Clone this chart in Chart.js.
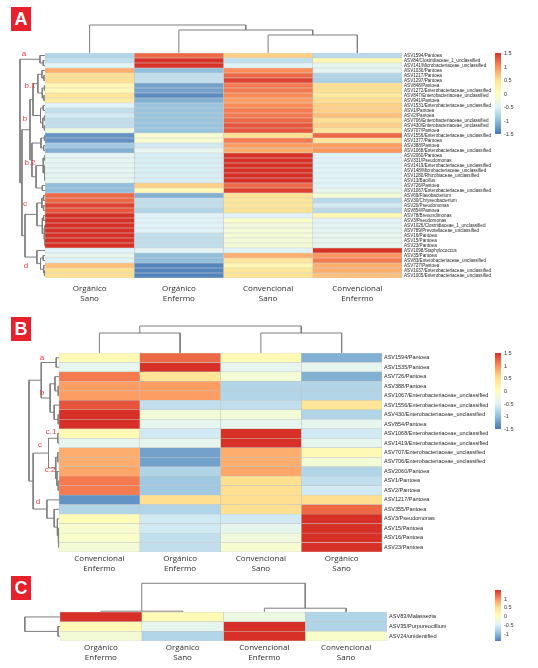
<!DOCTYPE html>
<html lang="es">
<head>
<meta charset="UTF-8">
<title>Heatmaps ASV</title>
<script src="https://cdn.jsdelivr.net/npm/chart.js"></script>
<style>
  body { margin: 0; background: #fff; }
  #page { position: relative; width: 538px; height: 668px; overflow: hidden; font-family: "Liberation Sans", Arial, sans-serif; }
  canvas { position: absolute; left: 0; }
  .tag { position: absolute; left: 11px; width: 20px; height: 24px; background: #e8202a; color: #fff;
         font: bold 18px "Liberation Sans Narrow", "Liberation Sans", sans-serif; text-align: center; line-height: 24px; }
  .cl { position: absolute; color: #e2404e; font-size: 8px; transform: translate(-50%, -50%); }
  .cbar { position: absolute; width: 6px; }
  .tk { position: absolute; font-size: 5.5px; color: #333; transform: translateY(-50%); }
</style>
</head>
<body>
<div id="page">
  <canvas id="chartA" width="538" height="310" style="top:0px"></canvas>
  <canvas id="chartB" width="538" height="266" style="top:310px"></canvas>
  <canvas id="chartC" width="538" height="92" style="top:576px"></canvas>
  <div class="tag" style="top:7px">A</div>
  <div class="tag" style="top:317px">B</div>
  <div class="tag" style="top:576px">C</div>
</div>

<script>
// ---- panel A (bacterias, 45 ASV) ----
var rowsA = ['ASV1594/Pantoea', 'ASV84/Clostridiaceae_1_unclassified', 'ASV141/Microbacteriaceae_unclassified',
  'ASV1030/Pantoea', 'ASV1217/Pantoea', 'ASV1297/Pantoea', 'ASV848/Pantoea', 'ASV1272/Enterobacteriaceae_unclassified',
  'ASV847/Enterobacteriaceae_unclassified', 'ASV941/Pantoea', 'ASV1531/Enterobacteriaceae_unclassified', 'ASV1/Pantoea',
  'ASV2/Pantoea', 'ASV706/Enterobacteriaceae_unclassified', 'ASV430/Enterobacteriaceae_unclassified', 'ASV707/Pantoea',
  'ASV1556/Enterobacteriaceae_unclassified', 'ASV1377/Pantoea', 'ASV388/Pantoea', 'ASV1068/Enterobacteriaceae_unclassified',
  'ASV2060/Pantoea', 'ASV331/Pseudomonas', 'ASV1419/Enterobacteriaceae_unclassified', 'ASV148/Microbacteriaceae_unclassified',
  'ASV1280/Rhizobiaceae_unclassified', 'ASV13/Bacillus', 'ASV726/Pantoea', 'ASV1067/Enterobacteriaceae_unclassified',
  'ASV69/Flavobacterium', 'ASV30/Chryseobacterium', 'ASV20/Pseudomonas', 'ASV854/Pantoea', 'ASV78/Brevundimonas',
  'ASV3/Pseudomonas', 'ASV1026/Clostridiaceae_1_unclassified', 'ASV789/Prevotellaceae_unclassified', 'ASV16/Pantoea',
  'ASV15/Pantoea', 'ASV23/Pantoea', 'ASV1098/Staphylococcus', 'ASV35/Pantoea', 'ASV83/Enterobacteriaceae_unclassified',
  'ASV727/Pantoea', 'ASV1037/Enterobacteriaceae_unclassified', 'ASV1005/Enterobacteriaceae_unclassified'];
var colsA = [['Orgánico', 'Sano'], ['Orgánico', 'Enfermo'], ['Convencional', 'Sano'], ['Convencional', 'Enfermo']];
var aOrgSano = [-0.8, -0.7, -0.5, 0.8, 0.5, 0.5, 0.15, 0.1, 0.4, 0.3, -0.5, -0.7, -0.6, -0.7, -0.7, -0.3,
  -1.3, -1.3, -0.9, -1.1, -0.45, -0.45, -0.45, -0.45, -0.45, -0.45, -1.0, -1.0,
  1.2, 1.2, 1.4, 1.3, 1.5, 1.5, 1.5, 1.5, 1.5, 1.5, 1.5, -0.5, -0.4, -0.5, 0.7, 0.5, 0.5];
var aOrgEnf = [1.2, 1.5, 1.5, -1.0, -0.7, -0.7, -1.2, -1.2, -1.35, -1.1, -0.95, -0.95, -0.95, -0.95, -0.95, -0.95,
  -0.15, -0.15, -0.6, -0.4, -0.55, -0.55, -0.55, -0.55, -0.55, -0.55, 0.6, 0.1,
  -1.1, -0.7, -0.7, -0.8, -0.5, -0.5, -0.5, -0.5, -0.7, -0.7, -0.7, -0.45, -1.0, -1.0, -1.4, -1.4, -1.4];
var aConvSano = [0.6, -0.7, -0.5, 1.0, 1.2, 1.4, 1.1, 1.1, 1.0, 0.9, 1.0, 1.1, 1.1, 1.2, 1.3, 1.3,
  0.5, 1.1, 0.9, 0.8, 1.5, 1.5, 1.5, 1.5, 1.5, 1.5, 1.2, 1.4,
  0.45, 0.4, 0.4, 0.45, -0.5, -0.1, -0.25, -0.2, -0.2, -0.2, -0.2, -0.5, 0.8, 0.4, 0.15, 0.4, 0.45];
var aConvEnf = [-0.75, 0.15, -0.4, -0.45, -0.8, -0.85, 0.5, 0.5, 0.35, 0.5, 0.6, 0.6, 0.7, 0.5, 0.6, 0.4,
  1.2, 0.4, 0.9, 0.95, -0.5, -0.5, -0.5, -0.5, -0.5, -0.5, -0.5, -0.4,
  -0.2, -0.75, -0.6, -0.75, 0.15, -0.5, -0.45, -0.45, -0.4, -0.4, -0.4, 1.5, 0.95, 1.1, 0.8, 0.8, 0.7];
// dendrograms: [height, left, right], leaves are row/column indexes
var rowTreeA = [0.28, [0.056, 0, [0.02, 1, 2]],
  [0.258,
    [0.168,
      [0.134, [0.08, [0.035, 3, [0.012, 4, 5]], [0.03, [0.01, 6, 7], [0.012, 8, 9]]],
              [0.05, [0.02, 10, 11], [0.025, [0.01, 12, 13], [0.01, 14, 15]]]],
      [0.146, [0.045, [0.01, 16, 17], [0.015, 18, 19]],
              [0.1, [0.02, [0.005, 20, 21], [0.006, [0.003, 22, 23], [0.003, 24, 25]]], [0.03, 26, 27]]]],
    [0.224,
      [0.09, [0.035, [0.015, 28, 29], [0.015, 30, 31]],
             [0.03, [0.015, 32, 33], [0.01, [0.005, 34, 35], [0.005, 36, [0.003, 37, 38]]]]],
      [0.09, 39, [0.05, [0.02, 40, 41], [0.015, 42, [0.01, 43, 44]]]]]]];
var colTreeA = [5.6, 0, [4.6, 1, [3.6, 2, 3]]];

// ---- panel B ----
var rowsB = ['ASV1594/Pantoea', 'ASV1535/Pantoea', 'ASV726/Pantoea', 'ASV388/Pantoea',
  'ASV1067/Enterobacteriaceae_unclassified', 'ASV1556/Enterobacteriaceae_unclassified',
  'ASV430/Enterobacteriaceae_unclassified', 'ASV854/Pantoea', 'ASV1068/Enterobacteriaceae_unclassified',
  'ASV1419/Enterobacteriaceae_unclassified', 'ASV707/Enterobacteriaceae_unclassified',
  'ASV706/Enterobacteriaceae_unclassified', 'ASV2060/Pantoea', 'ASV1/Pantoea', 'ASV2/Pantoea', 'ASV1217/Pantoea',
  'ASV355/Pantoea', 'ASV3/Pseudomonas', 'ASV15/Pantoea', 'ASV16/Pantoea', 'ASV23/Pantoea'];
var colsB = [['Convencional', 'Enfermo'], ['Orgánico', 'Enfermo'], ['Convencional', 'Sano'], ['Orgánico', 'Sano']];
var bConvEnf = [0.1, -0.4, 1.1, 0.9, 0.9, 1.3, 1.5, 1.5, 0.1, -0.4, 0.8, 0.8, 0.85, 1.1, 1.1, -1.3, -0.8, 0.05, -0.15, -0.1, -0.2];
var bOrgEnf = [1.2, 1.5, 0.4, 0.9, 0.9, -0.7, -0.2, -0.4, -0.6, -0.4, -1.2, -1.2, -0.8, -0.9, -0.9, 0.5, -0.8, -0.6, -0.6, -0.7, -0.7];
var bConvSano = [0.1, -0.4, -0.2, -0.8, -0.8, -0.7, -0.2, -0.4, 1.5, 1.5, 0.8, 0.8, 0.85, 0.5, 0.5, 0.5, 0.5, -0.6, -0.4, -0.25, -0.15];
var bOrgSano = [-1.1, -0.4, -1.1, -0.8, -0.8, 0.4, -0.8, -0.4, -0.6, -0.4, 0.1, -0.2, -0.8, -0.7, -0.6, 0.5, 1.2, 1.5, 1.5, 1.5, 1.5];
var rowTreeB = [0.3715,
  [0.22, [0.035, 0, 1], [0.11, [0.05, 2, [0.01, 3, 4]], [0.06, 5, [0.01, 6, 7]]]],
  [0.32, [0.13, [0.015, 8, 9], [0.04, [0.015, 10, 11], [0.025, 12, [0.01, 13, 14]]]],
         [0.15, 15, [0.06, 16, [0.02, 17, [0.01, 18, [0.005, 19, 20]]]]]]];
var colTreeB = [2.85, [2.11, 0, 1], [2.11, 2, 3]];

// ---- panel C (hongos) ----
var rowsC = ['ASV83/Malassezia', 'ASV35/Purpureocillium', 'ASV24/unidentified'];
var colsC = [['Orgánico', 'Enfermo'], ['Orgánico', 'Sano'], ['Convencional', 'Enfermo'], ['Convencional', 'Sano']];
var cOrgEnf = [1.5, 0.1, -0.2];
var cOrgSano = [0.1, -0.4, -0.8];
var cConvEnf = [-0.3, 1.5, 1.5];
var cConvSano = [-0.8, -0.8, -0.1];
var rowTreeC = [0.43, 0, [0.025, 1, 2]];
var colTreeC = [3.0, [0.1, 0, 1], [0.41, 2, 3]];

var legendTicksAB = [1.5, 1, 0.5, 0, -0.5, -1, -1.5];
var legendTicksC = [1, 0.5, 0, -0.5, -1];

// RdYlBu, blue (-1.5) to red (1.5)
var palette = ['#4575b4', '#91bfdb', '#e0f3f8', '#ffffbf', '#fee090', '#fc8d59', '#d73027'];

function hexToRgb(h) {
  return [parseInt(h.slice(1, 3), 16), parseInt(h.slice(3, 5), 16), parseInt(h.slice(5, 7), 16)];
}

function heatColor(v) {
  var t = (Math.max(-1.5, Math.min(1.5, v)) + 1.5) / 3 * (palette.length - 1);
  var i = Math.min(palette.length - 2, Math.floor(t));
  var f = t - i;
  var a = hexToRgb(palette[i]), b = hexToRgb(palette[i + 1]);
  return 'rgb(' + a.map(function (x, k) { return Math.round(x + (b[k] - x) * f); }).join(',') + ')';
}

// each merge gives a U shaped link: [height, position] pairs
function treeLinks(tree) {
  var links = [];
  function walk(n) {
    if (typeof n === 'number') return { p: n + 0.5, h: 0 };
    var l = walk(n[1]), r = walk(n[2]);
    links.push([[l.h, l.p], [n[0], l.p], [n[0], r.p], [r.h, r.p]]);
    return { p: (l.p + r.p) / 2, h: n[0] };
  }
  walk(tree);
  return links;
}

function lineSet(points) {
  return {
    type: 'line', data: points, borderColor: '#7d7d7d', borderWidth: 1,
    pointRadius: 0, fill: false, tension: 0, xAxisID: 'x', yAxisID: 'y'
  };
}

function drawPanel(id, p) {
  var n = p.rows.length;
  var datasets = p.values.map(function (vals, c) {
    return {
      type: 'bar',
      data: p.rows.map(function (r, i) { return { y: i + 0.5, x: [c, c + 1] }; }),
      backgroundColor: vals.map(heatColor),
      borderColor: '#c4c4c4', borderWidth: 0.5, borderSkipped: false,
      grouped: false, barPercentage: 1, categoryPercentage: 1,
      xAxisID: 'x', yAxisID: 'y'
    };
  });
  treeLinks(p.rowTree).forEach(function (seg) {
    datasets.push(lineSet(seg.map(function (q) { return { x: -q[0], y: q[1] }; })));
  });
  treeLinks(p.colTree).forEach(function (seg) {
    datasets.push(lineSet(seg.map(function (q) { return { x: q[1], y: -q[0] }; })));
  });

  new Chart(document.getElementById(id), {
    type: 'bar',
    data: { datasets: datasets },
    options: {
      indexAxis: 'y',
      responsive: false,
      animation: false,
      events: [],
      layout: { padding: { left: p.padLeft, top: p.padTop, right: 0, bottom: 0 } },
      plugins: { legend: { display: false }, tooltip: { enabled: false } },
      scales: {
        x: {
          type: 'linear', min: p.xMin, max: p.cols.length,
          grid: { display: false, drawTicks: false }, border: { display: false },
          afterBuildTicks: function (s) { s.ticks = p.cols.map(function (c, i) { return { value: i + 0.5 }; }); },
          afterFit: function (s) { s.height = p.axisHeight; },
          ticks: {
            autoSkip: false, maxRotation: 0, minRotation: 0, padding: p.labelPad, color: '#2b2b2b',
            font: { family: 'Open Sans', size: 8, lineHeight: 1.25 },
            callback: function (v, i) { return p.cols[i]; }
          }
        },
        y: {
          type: 'linear', display: false, min: p.yMin, max: n, reverse: true, offset: false,
          afterBuildTicks: function (s) { s.ticks = []; }
        },
        yl: {
          type: 'linear', position: 'right', min: p.yMin, max: n, reverse: true, offset: false,
          grid: { display: false, drawTicks: false }, border: { display: false },
          afterBuildTicks: function (s) { s.ticks = p.rows.map(function (r, i) { return { value: i + 0.5 }; }); },
          afterFit: function (s) { s.width = p.labelWidth; },
          ticks: {
            autoSkip: false, padding: 2, color: '#1e1e1e',
            font: { family: 'Liberation Sans', size: p.rowFont },
            callback: function (v, i) { return p.rows[i]; }
          }
        }
      }
    }
  });
}

drawPanel('chartA', {
  rows: rowsA, cols: colsA, values: [aOrgSano, aOrgEnf, aConvSano, aConvEnf],
  rowTree: rowTreeA, colTree: colTreeA,
  padLeft: 15, padTop: 22, xMin: -0.336, yMin: -6.2, labelWidth: 136, axisHeight: 32, rowFont: 4.6, labelPad: 6
});
drawPanel('chartB', {
  rows: rowsB, cols: colsB, values: [bConvEnf, bOrgEnf, bConvSano, bOrgSano],
  rowTree: rowTreeB, colTree: colTreeB,
  padLeft: 26, padTop: 14, xMin: -0.4087, yMin: -3.06, labelWidth: 156, axisHeight: 24, rowFont: 5.5, labelPad: 2
});
drawPanel('chartC', {
  rows: rowsC, cols: colsC, values: [cOrgEnf, cOrgSano, cConvEnf, cConvSano],
  rowTree: rowTreeC, colTree: colTreeC,
  padLeft: 22, padTop: 5, xMin: -0.4648, yMin: -3.2, labelWidth: 151, axisHeight: 27, rowFont: 5.6, labelPad: 2
});

// colour keys
var page = document.getElementById('page');
function colorKey(left, top, bottom, vmax, vmin, ticks) {
  var stops = [];
  for (var k = 0; k <= 12; k++) {
    var v = vmax - (vmax - vmin) * k / 12;
    stops.push(heatColor(v) + ' ' + (k / 12 * 100).toFixed(1) + '%');
  }
  var bar = document.createElement('div');
  bar.className = 'cbar';
  bar.style.cssText = 'left:' + left + 'px;top:' + top + 'px;height:' + (bottom - top) + 'px;background:linear-gradient(to bottom,' + stops.join(',') + ')';
  page.appendChild(bar);
  ticks.forEach(function (t) {
    var s = document.createElement('span');
    s.className = 'tk';
    s.textContent = t;
    s.style.left = (left + 9) + 'px';
    s.style.top = (top + (vmax - t) / (vmax - vmin) * (bottom - top)) + 'px';
    page.appendChild(s);
  });
}
colorKey(495, 53, 134, 1.5, -1.5, legendTicksAB);
colorKey(495, 353, 429, 1.5, -1.5, legendTicksAB);
colorKey(495, 590, 641, 1.5, -1.43, legendTicksC);

// cluster letters
[['a', 24, 53], ['b.1', 30, 85], ['b', 25, 118], ['b.2', 30, 162], ['c', 25, 203], ['d', 26, 265],
 ['a', 42, 357], ['b', 42, 392], ['c.1', 51, 431], ['c', 40, 444], ['c.2', 50, 469], ['d', 38, 501]].forEach(function (l) {
  var s = document.createElement('span');
  s.className = 'cl';
  s.textContent = l[0];
  s.style.left = l[1] + 'px';
  s.style.top = l[2] + 'px';
  page.appendChild(s);
});
</script>
</body>
</html>
